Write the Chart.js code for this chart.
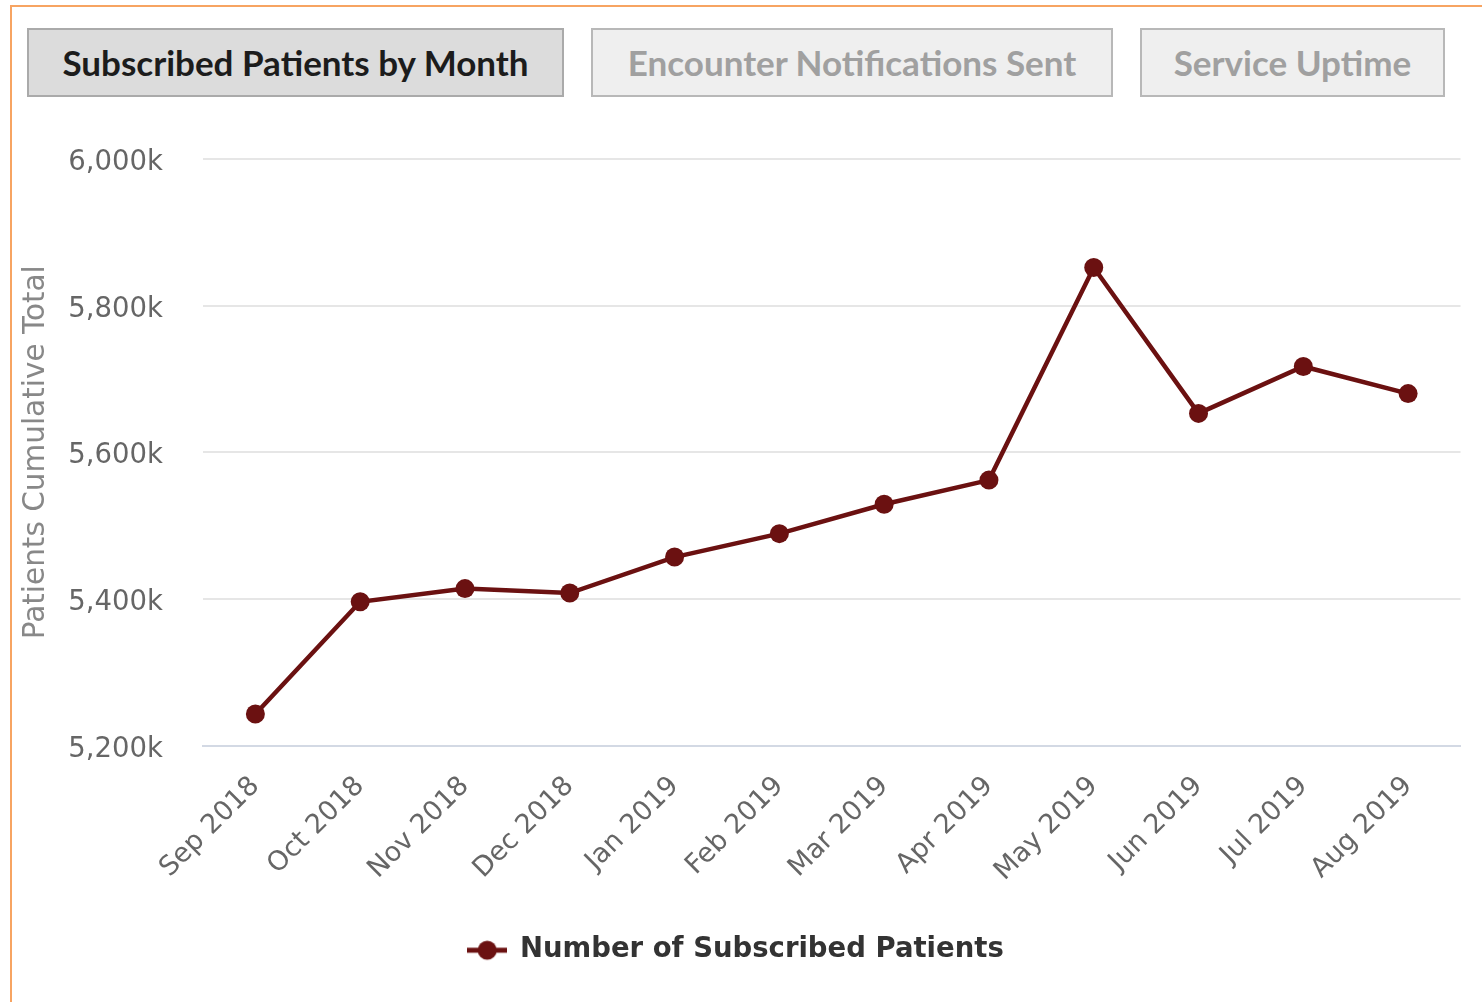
<!DOCTYPE html>
<html>
<head>
<meta charset="utf-8">
<script src="https://cdn.jsdelivr.net/npm/chart.js@4.4.0/dist/chart.umd.min.js"></script>
<style>
  body { margin: 0; background: #fff; width: 1482px; height: 1002px; overflow: hidden; position: relative; }
  .frame { position: absolute; left: 10px; top: 5px; width: 1490px; height: 1010px; border-top: 2px solid #f7a462; border-left: 2px solid #f7a462; }
  .tab { position: absolute; top: 28px; height: 69px; box-sizing: border-box; border: 2px solid #b8b8b8;
         font-family: Lato, sans-serif; font-weight: 700; font-size: 35px; line-height: 65px; text-align: center;
         color: #a0a0a0; background: #efefef; white-space: nowrap; }
  .tab.active { background: #dcdcdc; color: #1c1c1c; border-color: #aaaaaa; }
  #wrap { position: absolute; left: 0; top: 120px; width: 1470px; height: 882px; }
</style>
</head>
<body>
<div class="frame"></div>
<div class="tab active" style="left:27px; width:537px;">Subscribed Patients by Month</div>
<div class="tab" style="left:591px; width:522px;">Encounter Notifications Sent</div>
<div class="tab" style="left:1140px; width:305px;">Service Uptime</div>
<div id="wrap"><canvas id="patientsChart"></canvas></div>

<script>
// values in thousands of patients
const months = ['Sep 2018', 'Oct 2018', 'Nov 2018', 'Dec 2018', 'Jan 2019', 'Feb 2019',
                'Mar 2019', 'Apr 2019', 'May 2019', 'Jun 2019', 'Jul 2019', 'Aug 2019'];
const subscribedPatients = [5243, 5396, 5414, 5408, 5457, 5489, 5529, 5562, 5852, 5653, 5717, 5680];
const yMin = 5200;
const yMax = 6000;
const yStep = 200;

const lineColor = '#6b1111';

function legendMarker() {
    const c = document.createElement('canvas');
    c.width = 40;
    c.height = 22;
    const ctx = c.getContext('2d');
    ctx.strokeStyle = lineColor;
    ctx.lineWidth = 5;
    ctx.beginPath();
    ctx.moveTo(0, 11);
    ctx.lineTo(40, 11);
    ctx.stroke();
    ctx.fillStyle = lineColor;
    ctx.beginPath();
    ctx.arc(20, 11, 9.5, 0, Math.PI * 2);
    ctx.fill();
    return c;
}

const marker = legendMarker();

new Chart(document.getElementById('patientsChart'), {
    type: 'line',
    data: {
        labels: months,
        datasets: [{
            label: 'Number of Subscribed Patients',
            data: subscribedPatients,
            borderColor: lineColor,
            backgroundColor: lineColor,
            borderWidth: 4.5,
            pointRadius: 9.5,
            pointBackgroundColor: lineColor,
            pointBorderWidth: 0,
            tension: 0,
            fill: false
        }]
    },
    options: {
        responsive: true,
        maintainAspectRatio: false,
        animation: false,
        layout: { padding: { top: 39, right: 0, bottom: 28, left: 2 } },
        plugins: {
            tooltip: { enabled: false },
            legend: {
                position: 'bottom',
                labels: {
                    usePointStyle: true,
                    pointStyleWidth: 38,
                    color: '#333',
                    font: { family: 'DejaVu Sans', weight: 'bold', size: 27.5 },
                    generateLabels: function (chart) {
                        return [{
                            text: chart.data.datasets[0].label,
                            pointStyle: marker,
                            fillStyle: lineColor,
                            strokeStyle: lineColor,
                            fontColor: '#333',
                            lineWidth: 0,
                            hidden: false,
                            datasetIndex: 0
                        }];
                    }
                }
            }
        },
        scales: {
            x: {
                offset: true,
                grid: { display: false, drawTicks: false },
                border: { display: true, color: '#d3d9e4', width: 2 },
                ticks: {
                    color: '#666',
                    font: { family: 'DejaVu Sans', size: 27 },
                    minRotation: 45,
                    maxRotation: 45,
                    autoSkip: false,
                    padding: 25
                },
                afterFit: function (scale) { scale.height = 181; }
            },
            y: {
                min: yMin,
                max: yMax,
                grid: { color: '#e6e6e6', lineWidth: 2, drawTicks: false },
                border: { display: false },
                ticks: {
                    stepSize: yStep,
                    color: '#666',
                    padding: 40,
                    labelOffset: 4,
                    font: { family: 'DejaVu Sans', size: 27.5 },
                    callback: v => v.toLocaleString('en-US') + 'k'
                },
                title: {
                    display: true,
                    text: 'Patients Cumulative Total',
                    color: '#888',
                    font: { family: 'DejaVu Sans', size: 29.5, lineHeight: 1.2 },
                    padding: { top: 17, bottom: 0 }
                },
                afterFit: function (scale) {
                    scale.width = 201;
                    // keep the tick padding from pushing the plot down
                    scale.paddingTop = 17;
                    scale.paddingBottom = 17;
                }
            }
        }
    }
});
</script>
</body>
</html>
